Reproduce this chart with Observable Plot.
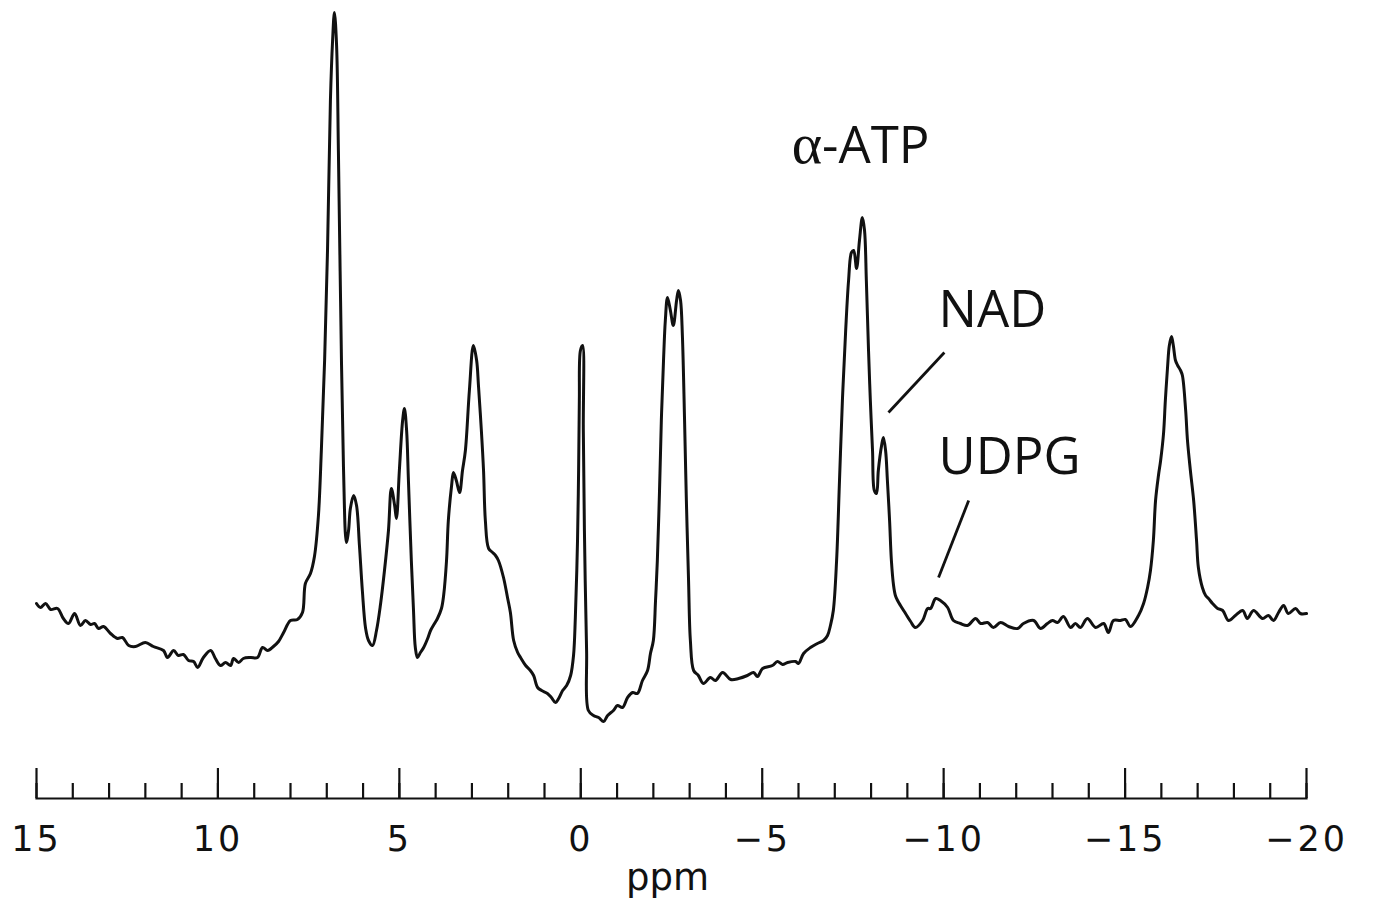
<!DOCTYPE html>
<html>
<head>
<meta charset="utf-8">
<script src="https://cdn.jsdelivr.net/npm/d3@7"></script>
<script src="https://cdn.jsdelivr.net/npm/@observablehq/plot@0.6"></script>
<style>
  html, body { margin: 0; padding: 0; background: #fff; }
  #chart { width: 1375px; height: 908px; }
</style>
</head>
<body>
<div id="chart"></div>
<script>
// 31P NMR spectrum: chemical shift (ppm) and signal intensity (arbitrary units)
const ppm = [
  15.00, 14.89, 14.75, 14.61, 14.42, 14.26, 14.12, 13.95, 13.79, 13.65, 13.51, 13.40, 13.29, 13.15, 12.96, 12.77,
  12.63, 12.46, 12.27, 12.00, 11.78, 11.50, 11.39, 11.22, 11.09, 10.95, 10.81, 10.67, 10.56, 10.40, 10.20, 10.07,
  9.93, 9.79, 9.65, 9.57, 9.43, 9.30, 9.10, 8.91, 8.77, 8.63, 8.47, 8.33, 8.19, 8.00, 7.81, 7.67,
  7.59, 7.45, 7.34, 7.23, 7.15, 7.06, 6.98, 6.90, 6.84, 6.79, 6.73, 6.68, 6.62, 6.54, 6.46, 6.40,
  6.35, 6.26, 6.18, 6.10, 6.02, 5.93, 5.85, 5.74, 5.63, 5.52, 5.41, 5.30, 5.22, 5.13, 5.08, 5.00,
  4.91, 4.86, 4.80, 4.75, 4.67, 4.61, 4.56, 4.50, 4.42, 4.33, 4.22, 4.14, 4.03, 3.95, 3.84, 3.78,
  3.70, 3.65, 3.56, 3.51, 3.43, 3.34, 3.26, 3.18, 3.07, 2.96, 2.87, 2.82, 2.74, 2.68, 2.63, 2.54,
  2.43, 2.35, 2.27, 2.13, 2.02, 1.94, 1.85, 1.74, 1.66, 1.52, 1.39, 1.30, 1.19, 1.08, 0.92, 0.81,
  0.70, 0.61, 0.50, 0.39, 0.28, 0.20, 0.15, 0.09, 0.06, 0.04, 0.01, -0.05, -0.07, -0.10, -0.16, -0.21,
  -0.35, -0.49, -0.63, -0.74, -0.90, -1.01, -1.15, -1.29, -1.43, -1.56, -1.70, -1.84, -1.92, -2.00, -2.06, -2.11,
  -2.17, -2.22, -2.28, -2.33, -2.39, -2.47, -2.55, -2.64, -2.69, -2.75, -2.80, -2.86, -2.91, -2.97, -3.02, -3.11,
  -3.24, -3.38, -3.57, -3.71, -3.91, -4.13, -4.35, -4.59, -4.76, -4.87, -5.01, -5.28, -5.42, -5.56, -5.70, -5.92,
  -6.00, -6.14, -6.33, -6.52, -6.69, -6.80, -6.88, -6.96, -7.05, -7.13, -7.21, -7.30, -7.38, -7.46, -7.52, -7.60,
  -7.68, -7.76, -7.82, -7.87, -7.93, -7.98, -8.04, -8.09, -8.15, -8.20, -8.29, -8.34, -8.40, -8.45, -8.51, -8.56,
  -8.62, -8.67, -8.73, -8.81, -8.95, -9.09, -9.22, -9.42, -9.56, -9.64, -9.78, -9.91, -10.11, -10.27, -10.46, -10.66,
  -10.88, -11.02, -11.21, -11.37, -11.57, -11.79, -12.04, -12.20, -12.48, -12.67, -12.86, -13.00, -13.14, -13.30, -13.50, -13.63,
  -13.77, -13.96, -14.19, -14.41, -14.54, -14.68, -14.87, -15.01, -15.15, -15.37, -15.51, -15.62, -15.70, -15.78, -15.84, -15.92,
  -15.98, -16.06, -16.11, -16.17, -16.22, -16.28, -16.33, -16.39, -16.45, -16.53, -16.58, -16.67, -16.72, -16.80, -16.89, -16.97,
  -17.02, -17.13, -17.22, -17.30, -17.41, -17.55, -17.69, -17.85, -18.04, -18.24, -18.37, -18.54, -18.79, -18.95, -19.09, -19.23,
  -19.37, -19.50, -19.70, -19.83, -20.00
];
const intensity = [
  127, 123, 127, 121, 122, 112, 107, 117, 105, 110, 106, 107, 102, 104, 97, 92,
  93, 85, 84, 88, 84, 80, 73, 80, 75, 76, 70, 69, 63, 73, 80, 72,
  65, 68, 65, 72, 68, 72, 73, 73, 83, 80, 84, 89, 98, 110, 111, 118,
  147, 157, 174, 215, 280, 370, 480, 630, 690, 718, 685, 580, 430, 263, 188, 200,
  222, 235, 225, 185, 140, 102, 90, 85, 100, 126, 160, 200, 242, 225, 212, 260,
  310, 322, 300, 250, 170, 120, 83, 73, 78, 83, 92, 100, 107, 112, 122, 135,
  170, 210, 245, 258, 250, 238, 260, 280, 340, 385, 370, 345, 300, 260, 210, 182,
  178, 175, 170, 153, 133, 118, 90, 78, 73, 65, 60, 55, 43, 40, 37, 33,
  28, 32, 40, 45, 55, 75, 113, 190, 260, 330, 380, 385, 300, 200, 80, 20,
  15, 13, 9, 15, 20, 25, 23, 33, 38, 37, 50, 60, 77, 90, 130, 170,
  240, 310, 370, 410, 433, 420, 405, 430, 440, 430, 395, 310, 230, 150, 90, 60,
  55, 47, 53, 50, 58, 51, 52, 55, 58, 54, 62, 65, 69, 66, 68, 69,
  67, 77, 83, 87, 90, 95, 105, 120, 170, 250, 330, 400, 450, 478, 480, 462,
  490, 513, 500, 450, 380, 330, 280, 240, 237, 260, 285, 293, 280, 250, 210, 170,
  145, 135, 130, 125, 117, 109, 103, 110, 122, 122, 132, 130, 123, 110, 107, 105,
  112, 107, 108, 103, 108, 104, 102, 107, 110, 102, 107, 110, 108, 114, 103, 107,
  103, 112, 103, 107, 98, 110, 110, 111, 104, 115, 127, 143, 160, 190, 230, 255,
  270, 297, 330, 363, 385, 394, 385, 370, 365, 360, 355, 320, 290, 260, 230, 190,
  163, 143, 135, 132, 127, 122, 120, 110, 115, 120, 112, 120, 112, 115, 110, 118,
  125, 117, 122, 117, 117
];

// axis ticks
const majorTicks = [15, 10, 5, 0, -5, -10, -15, -20];
const minorTicks = [15, 14, 13, 12, 11, 10, 9, 8, 7, 6, 5, 4, 3, 2, 1, 0, -1, -2, -3, -4, -5,
  -6, -7, -8, -9, -10, -11, -12, -13, -14, -15, -16, -17, -18, -19, -20];
const axisTitle = "ppm";

// peak annotations
const labelNames = ["α-ATP", "NAD", "UDPG"];
const labelPpm = [-7.71, -9.86, -9.86];
const labelIntensity = [584, 420, 273];
const labelAnchors = ["middle", "start", "start"];

// leader lines (from label toward peak)
const leaderPpmFrom = [-10.02, -10.69];
const leaderIntFrom = [378, 230];
const leaderPpmTo = [-8.48, -9.86];
const leaderIntTo = [318, 153];

// build tables
const spectrum = ppm.map((p, i) => ({ppm: p, intensity: intensity[i]}));
const labels = labelNames.map((t, i) => ({text: t, ppm: labelPpm[i], intensity: labelIntensity[i], anchor: labelAnchors[i]}));
const leaders = leaderPpmFrom.map((p, i) => ({x1: p, y1: leaderIntFrom[i], x2: leaderPpmTo[i], y2: leaderIntTo[i]}));

const W = 1375, H = 908;
const marginTop = 0, marginBottom = 110;
const frameH = H - marginTop - marginBottom;
const ink = "#111";
const fmt = d => d < 0 ? "\u2212" + Math.abs(d) : String(d);

const chart = Plot.plot({
  width: W,
  height: H,
  marginLeft: 36,
  marginRight: 69,
  marginTop,
  marginBottom,
  x: {domain: [15, -20], axis: null},
  y: {domain: [-68, 730], axis: null},
  style: {background: "#fff", color: ink, overflow: "visible"},
  marks: [
    Plot.frame({anchor: "bottom", stroke: ink, strokeWidth: 2.2}),
    Plot.tickX(minorTicks, {x: d => d, insetTop: frameH - 15, stroke: ink, strokeWidth: 2.2}),
    Plot.tickX(majorTicks, {x: d => d, insetTop: frameH - 30, stroke: ink, strokeWidth: 2.2}),
    Plot.axisX(majorTicks, {
      tickSize: 0, tickPadding: 28, label: null, tickFormat: fmt,
      fontSize: 35, fontFamily: "DejaVu Sans", fill: ink
    }),
    Plot.text([axisTitle], {
      frameAnchor: "bottom", dx: -4, dy: 91, fontSize: 37, fontFamily: "DejaVu Sans", fill: ink
    }),
    Plot.line(spectrum, {
      x: "ppm", y: "intensity", stroke: ink, strokeWidth: 3,
      curve: "catmull-rom", strokeLinejoin: "round"
    }),
    Plot.link(leaders, {x1: "x1", y1: "y1", x2: "x2", y2: "y2", stroke: ink, strokeWidth: 2.8}),
    Plot.text(labels, {
      x: "ppm", y: "intensity", text: "text", textAnchor: "start",
      filter: d => d.anchor === "start",
      fontSize: 51, fontFamily: "Open Sans", fill: ink
    }),
    Plot.text(labels, {
      x: "ppm", y: "intensity", text: "text", textAnchor: "middle",
      filter: d => d.anchor === "middle",
      fontSize: 51, fontFamily: "Open Sans", fill: ink
    })
  ]
});

document.getElementById("chart").appendChild(chart);

// wider letter spacing for the axis numbers, as in the original figure
d3.select(chart).selectAll("g[aria-label='x-axis tick label'] text")
  .style("letter-spacing", "3px");

// render the Greek alpha in a serif face, as in the original figure
d3.select(chart).selectAll("text").filter(function () { return this.textContent === "α-ATP"; })
  .each(function () {
    const t = d3.select(this);
    t.text(null);
    t.append("tspan").attr("font-family", "Liberation Serif").attr("font-size", 58).text("α");
    t.append("tspan").text("-ATP");
  });
</script>
</body>
</html>
